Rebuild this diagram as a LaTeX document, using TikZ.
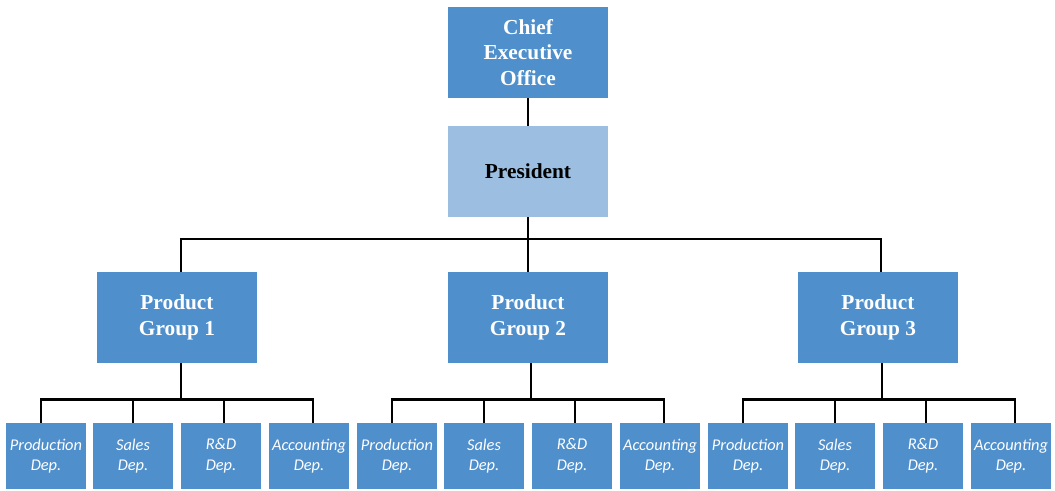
\documentclass[tikz,border=0pt]{standalone}
\usepackage{fontspec}
\setmainfont{Liberation Serif}
\newfontfamily\deptfont{Carlito}
\definecolor{boxblue}{HTML}{4F8FCC}
\definecolor{lightblue}{HTML}{9BBEE1}
\begin{document}
\begin{tikzpicture}[x=0.75pt,y=-0.75pt,
  head/.style={fill=boxblue,minimum width=120pt,minimum height=68.25pt,inner sep=0pt,
    text=white,font=\fontsize{16}{19}\selectfont\bfseries,align=center},
  pres/.style={head,fill=lightblue,text=black},
  dept/.style={fill=boxblue,minimum width=60pt,minimum height=49.5pt,inner sep=0pt,
    text=white,font=\deptfont\itshape\fontsize{12.3}{15.5}\selectfont,align=center},
  wire/.style={draw=black,line width=2.2pt}]
\useasboundingbox (0,0) rectangle (1055,490);
\node[head] (ceo) at (528,52.5) {Chief\\Executive\\Office};
\node[pres] (pres) at (528,171.5) {President};
\node[head] (g1) at (177,317.5) {Product\\Group 1};
\node[head] (g2) at (528,317.5) {Product\\Group 2};
\node[head] (g3) at (878,317.5) {Product\\Group 3};
\draw[wire] (ceo.south) -- (pres.north);
\coordinate (bus) at (528,239);
\draw[wire] (pres.south) -- (bus);
\draw[wire] (g1.north -| 181,0) |- (bus) -| (g3.north -| 881,0);
\draw[wire] (bus) -- (g2.north);
\foreach \g/\off/\gx in {1/0/181, 2/351/531, 3/702/882} {
  \node[dept] (p\g) at (46+\off,456) {Production\\Dep.};
  \node[dept] (s\g) at (133+\off,456) {Sales\\Dep.};
  \node[dept] (r\g) at (221+\off,456) {R\&D\\Dep.};
  \node[dept] (a\g) at (309+\off,456) {Accounting\\Dep.};
  \coordinate (b\g) at (\gx,399.5);
  \draw[wire] (g\g.south -| b\g) -- (b\g);
  \draw[wire] (p\g.north -| 41+\off,0) |- (b\g) -| (a\g.north -| 313+\off,0);
  \draw[wire] (s\g.north) -- (s\g.north |- b\g);
  \draw[wire] (r\g.north -| 224+\off,0) -- (b\g -| 224+\off,0);
}
\end{tikzpicture}
\end{document}
